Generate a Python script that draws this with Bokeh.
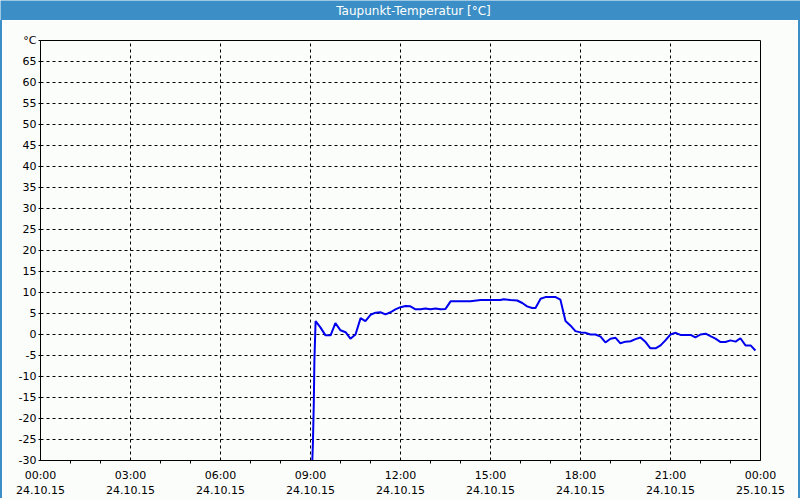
from bokeh.plotting import figure
from bokeh.models import Range1d, FixedTicker, Div
from bokeh.layouts import column, row
from bokeh.core.properties import value
from bokeh.embed import file_html
from bokeh.resources import INLINE

# time of day in hours (24.10.15)
hours = [9.06, 9.08, 9.11, 9.13, 9.17, 9.33, 9.5, 9.67, 9.83, 10.0, 10.17, 10.33, 10.5,
         10.67, 10.83, 11.0, 11.17, 11.33, 11.5, 11.67, 11.83, 12.0, 12.17, 12.33, 12.5,
         12.67, 12.83, 13.0, 13.17, 13.33, 13.5, 13.67, 14.0, 14.33, 14.67, 15.0, 15.33,
         15.44, 15.67, 15.89, 16.06, 16.22, 16.39, 16.5, 16.67, 16.83, 17.17, 17.33, 17.39,
         17.5, 17.67, 17.83, 18.0, 18.17, 18.33, 18.5, 18.67, 18.83, 19.0, 19.17, 19.33,
         19.5, 19.67, 19.83, 20.0, 20.17, 20.33, 20.5, 20.67, 20.83, 21.0, 21.17, 21.33,
         21.5, 21.67, 21.83, 22.0, 22.17, 22.33, 22.5, 22.67, 22.83, 23.0, 23.17, 23.33,
         23.5, 23.67, 23.83]
dewpoint = [-30.0, -26.0, -16.4, -6.2, 3.2, 1.7, -0.2, -0.2, 2.7, 1.0, 0.55, -1.0, 0.0,
            3.9, 3.2, 4.7, 5.2, 5.3, 4.8, 5.3, 6.0, 6.5, 6.8, 6.7, 6.0,
            6.0, 6.2, 6.0, 6.2, 6.0, 6.1, 7.9, 7.9, 7.9, 8.2, 8.2, 8.2,
            8.4, 8.2, 8.1, 7.5, 6.7, 6.3, 6.3, 8.5, 8.9, 8.9, 8.3, 6.5,
            3.2, 2.1, 0.8, 0.5, 0.4, 0.0, 0.0, -0.5, -1.9, -1.0, -0.8, -2.1,
            -1.7, -1.6, -1.1, -0.7, -1.8, -3.3, -3.3, -2.6, -1.4, 0.0, 0.4, -0.1,
            -0.1, -0.1, -0.7, 0.0, 0.2, -0.4, -1.0, -1.8, -1.8, -1.4, -1.7, -0.9,
            -2.6, -2.6, -3.8]

x_ticks = [0, 3, 6, 9, 12, 15, 18, 21, 24]
x_tick_labels = ["00:00\n24.10.15", "03:00\n24.10.15", "06:00\n24.10.15", "09:00\n24.10.15",
                 "12:00\n24.10.15", "15:00\n24.10.15", "18:00\n24.10.15", "21:00\n24.10.15",
                 "00:00\n25.10.15"]
x_minor = [1, 2, 4, 5, 7, 8, 10, 11, 13, 14, 16, 17, 19, 20, 22, 23]
y_ticks = [-30, -25, -20, -15, -10, -5, 0, 5, 10, 15, 20, 25, 30, 35, 40, 45, 50, 55, 60, 65, 70]
y_tick_labels = ["-30", "-25", "-20", "-15", "-10", "-5", "0", "5", "10", "15", "20", "25",
                 "30", "35", "40", "45", "50", "55", "60", "65", "°C"]
title_text = "Taupunkt-Temperatur [°C]"

BG = "#fbfdfb"
BLUE_BAR = "#3c8fc6"
FONT = "DejaVu Sans"

# title bar
t = figure(width=800, height=20, output_backend="svg", toolbar_location=None,
           x_range=Range1d(0, 800), y_range=Range1d(0, 20), min_border=0,
           background_fill_color=BLUE_BAR, border_fill_color=BLUE_BAR)
t.axis.visible = False
t.grid.visible = False
t.outline_line_color = None
t.text(x=[413], y=[10], text=[title_text], text_font=value(FONT), text_font_size="12px",
       text_color="white", text_align="center", text_baseline="middle")

# main chart
p = figure(frame_width=720, frame_height=420, output_backend="svg", toolbar_location=None,
           x_range=Range1d(0, 24), y_range=Range1d(-30, 70),
           min_border_left=38, min_border_right=38, min_border_top=20, min_border_bottom=38,
           background_fill_color=BG, border_fill_color=BG)
p.outline_line_color = "black"
p.outline_line_width = 1

p.xaxis.ticker = FixedTicker(ticks=x_ticks, minor_ticks=x_minor)
p.xaxis.major_label_overrides = {t_: l for t_, l in zip(x_ticks, x_tick_labels)}
p.yaxis.ticker = FixedTicker(ticks=y_ticks)
p.yaxis.major_label_overrides = {t_: l for t_, l in zip(y_ticks, y_tick_labels)}

for ax in (p.xaxis[0], p.yaxis[0]):
    ax.axis_line_color = "black"
    ax.major_tick_line_color = "black"
    ax.minor_tick_line_color = "black"
    ax.major_label_text_font = FONT
    ax.major_label_text_font_size = "11px"
    ax.major_label_text_color = "black"
    ax.major_tick_in = 0
    ax.minor_tick_in = 0

p.xaxis.major_tick_out = 0
p.xaxis.minor_tick_out = 3
p.xaxis.major_label_standoff = 5
p.yaxis.major_tick_out = 2
p.yaxis.minor_tick_out = 0
p.yaxis.major_label_standoff = 2

p.grid.grid_line_color = "black"
p.grid.grid_line_dash = "3 3"
p.grid.grid_line_width = 1
p.xgrid.ticker = FixedTicker(ticks=x_ticks)
p.ygrid.ticker = FixedTicker(ticks=y_ticks)

p.line(hours, dewpoint, line_color="#0000ee", line_width=2)

edge = {"background-color": BLUE_BAR}
left_edge = Div(text="", width=2, height=478, margin=0, styles=edge)
right_edge = Div(text="", width=2, height=478, margin=0, styles=edge)
bottom_edge = Div(text="", width=800, height=2, margin=0, styles=edge)

layout = column(t, row(left_edge, p, right_edge, spacing=0), bottom_edge, spacing=0)

open("out.html", "w").write(file_html(layout, INLINE))
